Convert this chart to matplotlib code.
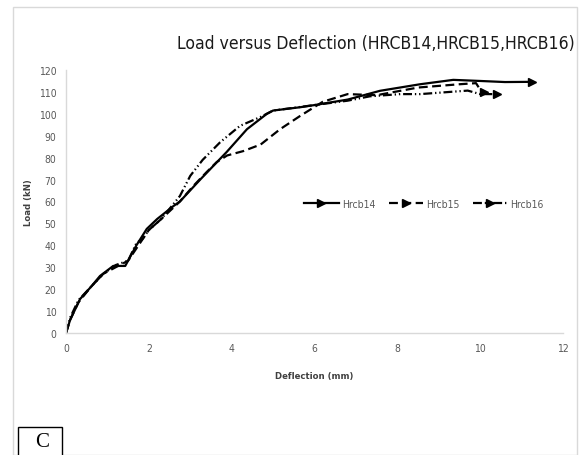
import matplotlib
matplotlib.use("Agg")
import matplotlib.pyplot as plt
from matplotlib.lines import Line2D
from matplotlib.legend_handler import HandlerLine2D
from matplotlib.patches import Rectangle
import numpy as np

# deflection (mm) / load (kN)
hrcb14_x = [0, 0.1, 0.34, 0.6, 0.82, 1.14, 1.43, 1.7, 1.95, 2.2, 2.6, 2.75, 3.24, 3.88,
            4.37, 4.85, 5.0, 5.65, 6.0, 6.8, 7.58, 8.55, 9.35, 10.0, 10.6, 11.25]
hrcb14_y = [0, 6, 15.5, 21, 26, 30.6, 30.6, 40, 47.5, 52, 58, 60, 70, 82.6,
            93, 100, 101.5, 103, 104, 106.5, 110.5, 113.5, 115.5, 115, 114.5, 114.6]

hrcb15_x = [0, 0.1, 0.3, 0.6, 0.9, 1.2, 1.5, 1.75, 2.0, 2.3, 2.75, 3.07, 3.4, 3.64, 3.89,
            4.28, 4.7, 5.17, 5.65, 6.2, 6.8, 7.5, 8.5, 9.5, 9.9, 10.0, 10.1]
hrcb15_y = [0, 6, 14, 21, 27, 30, 33, 40, 47, 52, 60, 67, 73.5, 78, 81,
            83, 86, 93, 99, 105.5, 109, 108.5, 112, 113.5, 114, 111, 110]

hrcb16_x = [0, 0.1, 0.3, 0.6, 0.9, 1.2, 1.5, 1.7, 1.85, 2.0, 2.3, 2.75, 3.0, 3.3, 3.72,
            4.2, 4.7, 5.0, 5.6, 6.2, 6.8, 7.34, 8.07, 8.55, 9.7, 10.0, 10.4]
hrcb16_y = [0, 7, 15, 21, 27, 31, 33, 41, 43, 47, 52, 62.5, 71.7, 79, 87,
            94.5, 98.6, 101.5, 103, 104.5, 106, 108, 109, 109, 110.6, 109, 109]

series = [
    ("Hrcb14", hrcb14_x, hrcb14_y, "-"),
    ("Hrcb15", hrcb15_x, hrcb15_y, (0, (4, 2))),
    ("Hrcb16", hrcb16_x, hrcb16_y, (0, (4, 1.3, 0.6, 1.3, 0.6, 1.3))),
]

x_ticks = [0, 2, 4, 6, 8, 10, 12]
y_ticks = list(range(0, 121, 10))

narrow = {"family": "DejaVu Sans", "stretch": "condensed"}
gray = "#595959"


class ArrowEndHandler(HandlerLine2D):
    # legend line with the arrow head at the right end
    def get_xdata(self, legend, xdescent, ydescent, width, height, fontsize):
        xdata = np.array([-xdescent, -xdescent + width])
        return xdata, xdata[-1:]


fig = plt.figure(figsize=(5.79, 4.56), dpi=100)
ax = fig.add_axes([66 / 579, 1 - 334 / 456, 497 / 579, 263 / 456])

handles = []
for name, xs, ys, ls in series:
    line, = ax.plot(xs, ys, color="black", linestyle=ls, linewidth=1.6,
                    marker=">", markersize=5.5, markevery=[len(xs) - 1], label=name)
    handles.append(line)

ax.set_xlim(0, 12)
ax.set_ylim(0, 120)
ax.set_xticks(x_ticks)
ax.set_yticks(y_ticks)
ax.tick_params(length=0, labelsize=7.5, labelcolor=gray, pad=7)
for lab in ax.get_xticklabels() + ax.get_yticklabels():
    lab.set_fontstretch("condensed")

for side in ["top", "right"]:
    ax.spines[side].set_visible(False)
for side in ["left", "bottom"]:
    ax.spines[side].set_color("#d9d9d9")
    ax.spines[side].set_linewidth(1.0)

ax.set_xlabel("Deflection (mm)", fontsize=6.8, fontweight="bold", color="#404040",
              labelpad=13, **narrow)
ax.set_ylabel("Load (kN)", fontsize=6.8, fontweight="bold", color="#404040",
              labelpad=4, **narrow)

leg = ax.legend(handles=handles, loc="center", bbox_to_anchor=(424 / 579, 1 - 205 / 456),
                bbox_transform=fig.transFigure, ncol=3, frameon=False,
                handlelength=3.3, handletextpad=0.3, columnspacing=1.3,
                prop={"family": "DejaVu Sans", "stretch": "condensed", "size": 7.5},
                handler_map={Line2D: ArrowEndHandler()})
for t in leg.get_texts():
    t.set_color(gray)

fig.text(575 / 579, 1 - 44 / 456, "Load versus Deflection (HRCB14,HRCB15,HRCB16)",
         ha="right", va="center", fontsize=12.6, color="#1a1a1a", **narrow)

# outer chart border and the panel letter box
fig.patches.append(Rectangle((13 / 579, 0.0), 564 / 579, 1 - 8 / 456,
                             transform=fig.transFigure, fill=False,
                             edgecolor="#d9d9d9", linewidth=1.0))
fig.patches.append(Rectangle((18 / 579, -0.05), 44 / 579, 0.05 + 28 / 456,
                             transform=fig.transFigure, fill=True, facecolor="white",
                             edgecolor="black", linewidth=1.0))
fig.text(42 / 579, 1 - 443 / 456, "C", ha="center", va="center", fontsize=15,
         family=["Liberation Serif", "DejaVu Serif"], color="black")

fig.savefig("out.png", dpi=100)
